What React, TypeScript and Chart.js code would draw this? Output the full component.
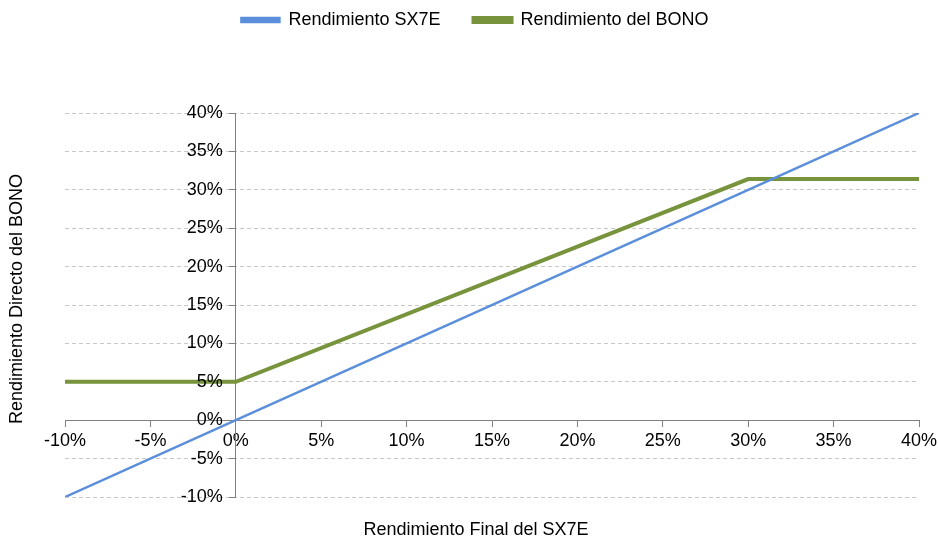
import React, { useEffect, useRef } from "react";
import { Chart, registerables } from "chart.js";

Chart.register(...registerables);

const xValues = [-10, 0, 30, 40];
const sx7eValues = [-10, 0, 30, 40];
const bonoValues = [5, 5, 31.4, 31.4];
const seriesNames = ["Rendimiento SX7E", "Rendimiento del BONO"];
const xTitle = "Rendimiento Final del SX7E";
const yTitle = "Rendimiento Directo del BONO";

const FONT = "'Liberation Sans', Arial, sans-serif";

const titlesPlugin = {
  id: "axisTitles",
  afterDatasetsDraw(chart: any) {
    const ctx = chart.ctx;
    const ys = chart.scales.y;
    const xs = chart.scales.x;
    const axisX = xs.getPixelForValue(0);
    ctx.save();
    ctx.fillStyle = "#000";
    ctx.font = `18px ${FONT}`;
    ctx.textAlign = "right";
    ctx.textBaseline = "middle";
    ys.ticks.forEach((t: any) => {
      ctx.fillText(`${t.value}%`, axisX - 13, ys.getPixelForValue(t.value));
    });
    ctx.restore();
  },
  afterDraw(chart: any) {
    const ctx = chart.ctx;
    ctx.save();
    ctx.fillStyle = "#000";
    ctx.font = `18px ${FONT}`;
    ctx.textAlign = "center";
    ctx.textBaseline = "middle";
    ctx.fillText(xTitle, 476, 530);
    ctx.translate(17, 299);
    ctx.rotate(-Math.PI / 2);
    ctx.fillText(yTitle, 0, 0);
    ctx.restore();
  },
};

export default function App() {
  const ref = useRef<HTMLCanvasElement>(null);
  useEffect(() => {
    const pts = (ys: number[]) => xValues.map((x, i) => ({ x, y: ys[i] }));
    const chart = new Chart(ref.current!, {
      type: "line",
      data: {
        datasets: [
          {
            label: seriesNames[0],
            data: pts(sx7eValues),
            borderColor: "#5B8FDB",
            backgroundColor: "#5B8FDB",
            borderWidth: 2.5,
            pointRadius: 0,
            xAxisID: "x",
            yAxisID: "y",
          },
          {
            label: seriesNames[1],
            data: pts(bonoValues),
            borderColor: "#77933C",
            backgroundColor: "#77933C",
            borderWidth: 4,
            pointRadius: 0,
            xAxisID: "x",
            yAxisID: "y",
          },
        ],
      },
      options: {
        animation: false,
        responsive: false,
        layout: { padding: { left: 31, right: 19, top: -22, bottom: 43 } },
        plugins: {
          tooltip: { enabled: false },
          legend: {
            position: "top",
            labels: {
              font: { family: FONT, size: 18 },
              color: "#000",
              boxWidth: 38,
              boxHeight: 4,
              padding: 33,
            },
          },
        },
        scales: {
          x: {
            type: "linear",
            min: -10,
            max: 40,
            position: { y: 0 } as any,
            ticks: {
              stepSize: 5,
              color: "#000",
              font: { family: FONT, size: 18 },
              padding: 4,
              callback: (v: any) => `${v}%`,
            },
            grid: {
              drawOnChartArea: false,
              drawTicks: true,
              tickLength: 6,
              tickColor: "#808080",
            },
            border: { color: "#808080", width: 1 },
            afterFit: (s: any) => {
              s.paddingLeft = 0;
              s.paddingRight = 0;
            },
          },
          y: {
            type: "linear",
            min: -10,
            max: 40,
            position: { x: 0 } as any,
            ticks: {
              stepSize: 5,
              display: false,
            },
            grid: {
              color: (c: any) => (c.tick && c.tick.value === 0 ? "rgba(0,0,0,0)" : "#C8C8C8"),
              lineWidth: 1,
              tickLength: 6,
              tickColor: "#808080",
            },
            border: { color: "#808080", width: 1, dash: [4, 3] },
          },
          padL: {
            type: "linear",
            position: "left",
            display: true,
            ticks: { display: false },
            grid: { display: false },
            border: { display: false },
            afterFit: (s: any) => {
              s.width = 34;
            },
          },
          padT: {
            type: "linear",
            position: "top",
            display: true,
            ticks: { display: false },
            grid: { display: false },
            border: { display: false },
            afterFit: (s: any) => {
              s.height = 74;
            },
          },
        },
      },
      plugins: [titlesPlugin],
    });
    return () => chart.destroy();
  }, []);
  return (
    <div style={{ position: "fixed", left: 0, top: 0, width: 938, height: 540, background: "#fff" }}>
      <canvas ref={ref} width={938} height={540} style={{ width: 938, height: 540 }} />
    </div>
  );
}
